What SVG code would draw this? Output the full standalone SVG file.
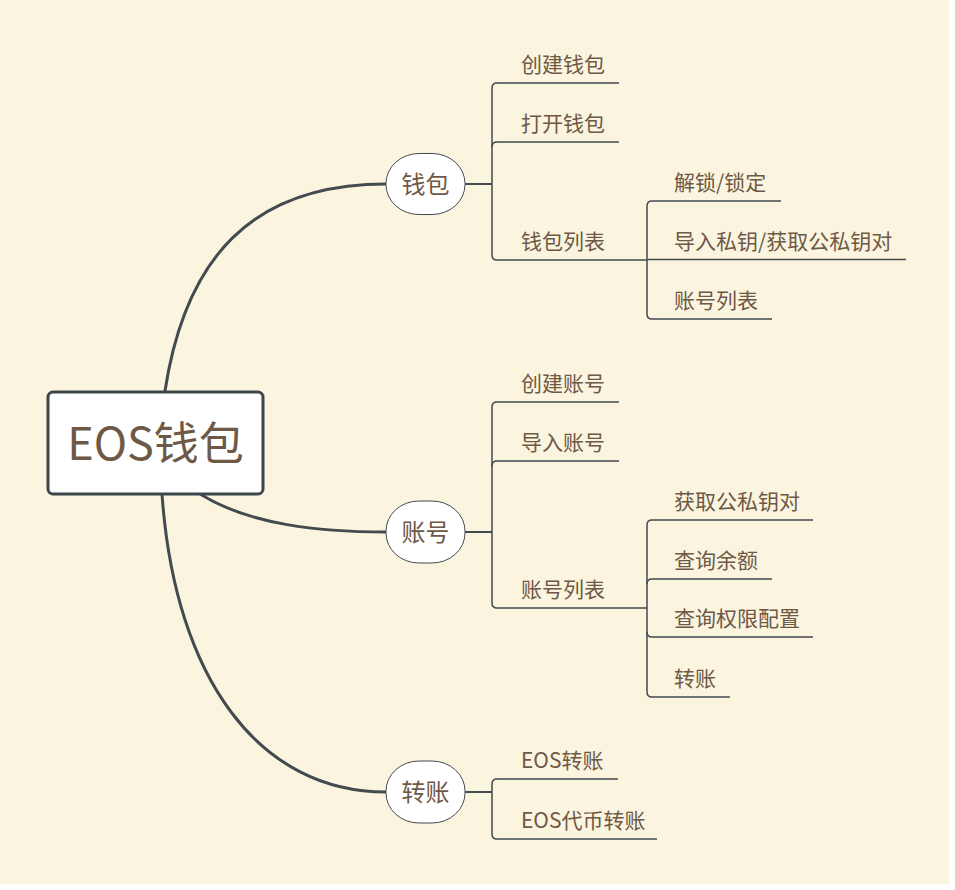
<svg xmlns="http://www.w3.org/2000/svg" width="955" height="890" viewBox="0 0 955 890">
<style>
.t{font-family:"Noto Sans CJK SC","Liberation Sans",sans-serif;fill:#6E5846}
.s{font-size:21px}
.m{font-size:24px}
.ln{fill:none;stroke:#434B50;stroke-width:1.5}
.br{fill:none;stroke:#434B50;stroke-width:2}
.cv{fill:none;stroke:#434B50;stroke-width:3}
.nd{fill:#FFFFFF;stroke:#434B50;stroke-width:1}
</style>
<rect x="0" y="0" width="955" height="890" fill="#FFFFFF"/>
<rect x="0" y="0" width="949" height="884" fill="#FBF4DE"/>
<g id="connectors">
<path class="cv" d="M165,391 C185,260 250,184 386,184"/>
<path class="cv" d="M200,494 C250,525 320,532 386,532"/>
<path class="cv" d="M162,494 C175,680 260,792 386,792"/>
<path class="br" d="M465,184 H492"/>
<path class="ln" d="M619,83 H497 Q492,83 492,88 V255 Q492,260 497,260 H647"/>
<path class="ln" d="M619,142 H497 Q492,142 492,147"/>
<path class="ln" d="M781,201 H652 Q647,201 647,206 V314 Q647,319 652,319 H772"/>
<path class="ln" d="M647,259.5 H906"/>
<path class="br" d="M465,532 H492"/>
<path class="ln" d="M619,402 H497 Q492,402 492,407 V603 Q492,608 497,608 H647"/>
<path class="ln" d="M619,461 H497 Q492,461 492,466"/>
<path class="ln" d="M813,520 H652 Q647,520 647,525 V692 Q647,697 652,697 H730"/>
<path class="ln" d="M772,579 H652 Q647,579 647,584"/>
<path class="ln" d="M647,632 Q647,637 652,637 H813"/>
<path class="br" d="M465,792 H492"/>
<path class="ln" d="M618,779 H497 Q492,779 492,784 V834 Q492,839 497,839 H657"/>
</g>
<g id="root">
<rect x="48" y="392" width="215" height="102" rx="5" fill="#FFFFFF" stroke="#3D464C" stroke-width="3"/>
<text class="t" x="155.5" y="460" font-size="45" text-anchor="middle">EOS钱包</text>
</g>
<g id="n-wallet">
<rect class="nd" x="386" y="153.5" width="79" height="61" rx="33" ry="30"/>
<text class="t m" x="425.5" y="193" text-anchor="middle">钱包</text>
</g>
<g id="n-account">
<rect class="nd" x="386" y="501" width="79" height="62" rx="33" ry="30"/>
<text class="t m" x="425.5" y="541" text-anchor="middle">账号</text>
</g>
<g id="n-transfer">
<rect class="nd" x="386" y="761" width="79" height="62" rx="33" ry="30"/>
<text class="t m" x="425.5" y="801" text-anchor="middle">转账</text>
</g>
<g id="w1"><text class="t s" x="521" y="72">创建钱包</text></g>
<g id="w2"><text class="t s" x="521" y="131">打开钱包</text></g>
<g id="w3"><text class="t s" x="521" y="249">钱包列表</text></g>
<g id="w31"><text class="t s" x="674" y="190">解锁/锁定</text></g>
<g id="w32"><text class="t s" x="674" y="249">导入私钥/获取公私钥对</text></g>
<g id="w33"><text class="t s" x="674" y="308">账号列表</text></g>
<g id="a1"><text class="t s" x="521" y="391">创建账号</text></g>
<g id="a2"><text class="t s" x="521" y="450">导入账号</text></g>
<g id="a3"><text class="t s" x="521" y="597">账号列表</text></g>
<g id="a31"><text class="t s" x="674" y="509">获取公私钥对</text></g>
<g id="a32"><text class="t s" x="674" y="568">查询余额</text></g>
<g id="a33"><text class="t s" x="674" y="626">查询权限配置</text></g>
<g id="a34"><text class="t s" x="674" y="686">转账</text></g>
<g id="t1"><text class="t s" x="521" y="768">EOS转账</text></g>
<g id="t2"><text class="t s" x="521" y="828">EOS代币转账</text></g>
</svg>
